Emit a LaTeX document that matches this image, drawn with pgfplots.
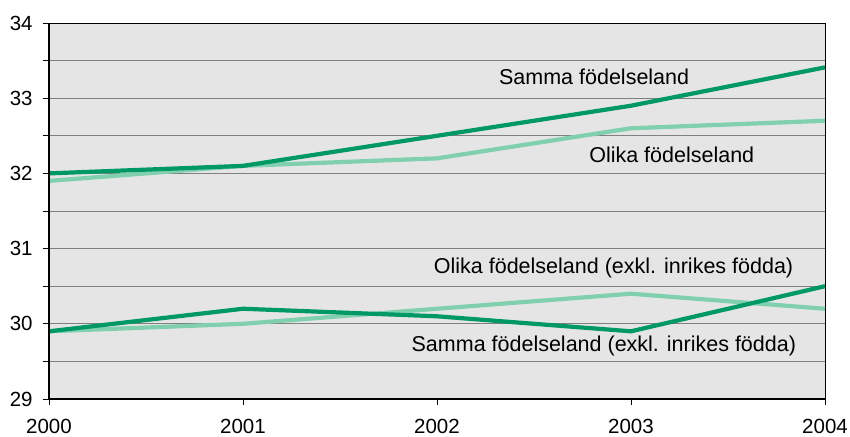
\documentclass[border=0pt]{standalone}
\usepackage{pgfplots}
\pgfplotsset{compat=1.18}
\usepackage{fontspec}
\setmainfont{Liberation Sans}
\usetikzlibrary{calc}
\definecolor{dkgreen}{RGB}{0,152,100}
\definecolor{ltgreen}{RGB}{128,208,176}
\definecolor{bggray}{RGB}{229,229,229}
\begin{document}
\fontsize{21.5bp}{25bp}\selectfont
\begin{tikzpicture}
\begin{axis}[
  scale only axis,
  width=776bp, height=376bp,
  xmin=2000, xmax=2004, ymin=29, ymax=34,
  xtick={2000,2001,2002,2003,2004},
  ytick={29,30,31,32,33,34},
  minor ytick={29.5,30.5,31.5,32.5,33.5},
  xtick pos=bottom, ytick pos=left,
  xticklabel style={/pgf/number format/1000 sep={}},
  /pgf/number format/assume math mode=true,
  ticklabel style={font=\fontsize{20.5bp}{24bp}\selectfont},
  tick align=outside,
  major tick length=6bp, minor tick length=6bp,
  tick style={black, line width=0.8bp},
  ymajorgrids, yminorgrids,
  major grid style={gray, line width=0.8bp},
  minor grid style={gray, line width=0.8bp},
  axis background/.style={fill=bggray},
  axis line style={black, line width=0.8bp},
  xticklabel shift=7bp,
  yticklabel shift=3bp,
  clip=false,
]
\addplot[ltgreen, line width=4.2bp] coordinates {(2000,31.9) (2001,32.1) (2002,32.2) (2003,32.6) (2004,32.7)};
\addplot[dkgreen, line width=4.2bp] coordinates {(2000,32.0) (2001,32.1) (2002,32.5) (2003,32.9) (2004,33.41)};
\addplot[ltgreen, line width=4.2bp] coordinates {(2000,29.9) (2001,30.0) (2002,30.2) (2003,30.4) (2004,30.2)};
\addplot[dkgreen, line width=4.2bp] coordinates {(2000,29.9) (2001,30.2) (2002,30.1) (2003,29.9) (2004,30.5)};
\node at (axis cs:2002.81,33.28) {Samma födelseland};
\node at (axis cs:2003.21,32.245) {Olika födelseland};
\node at (axis cs:2002.91,30.74) {Olika födelseland (exkl. inrikes födda)};
\node at (axis cs:2002.86,29.70) {Samma födelseland (exkl. inrikes födda)};
\draw[black, line width=1.5bp] (rel axis cs:0,1) -- (rel axis cs:0,0) -- (rel axis cs:1,0);
\end{axis}
\pgfresetboundingbox
\path ($(current axis.south west)+(-49bp,-38bp)$) rectangle ($(current axis.north east)+(25bp,23bp)$);
\end{tikzpicture}
\end{document}
